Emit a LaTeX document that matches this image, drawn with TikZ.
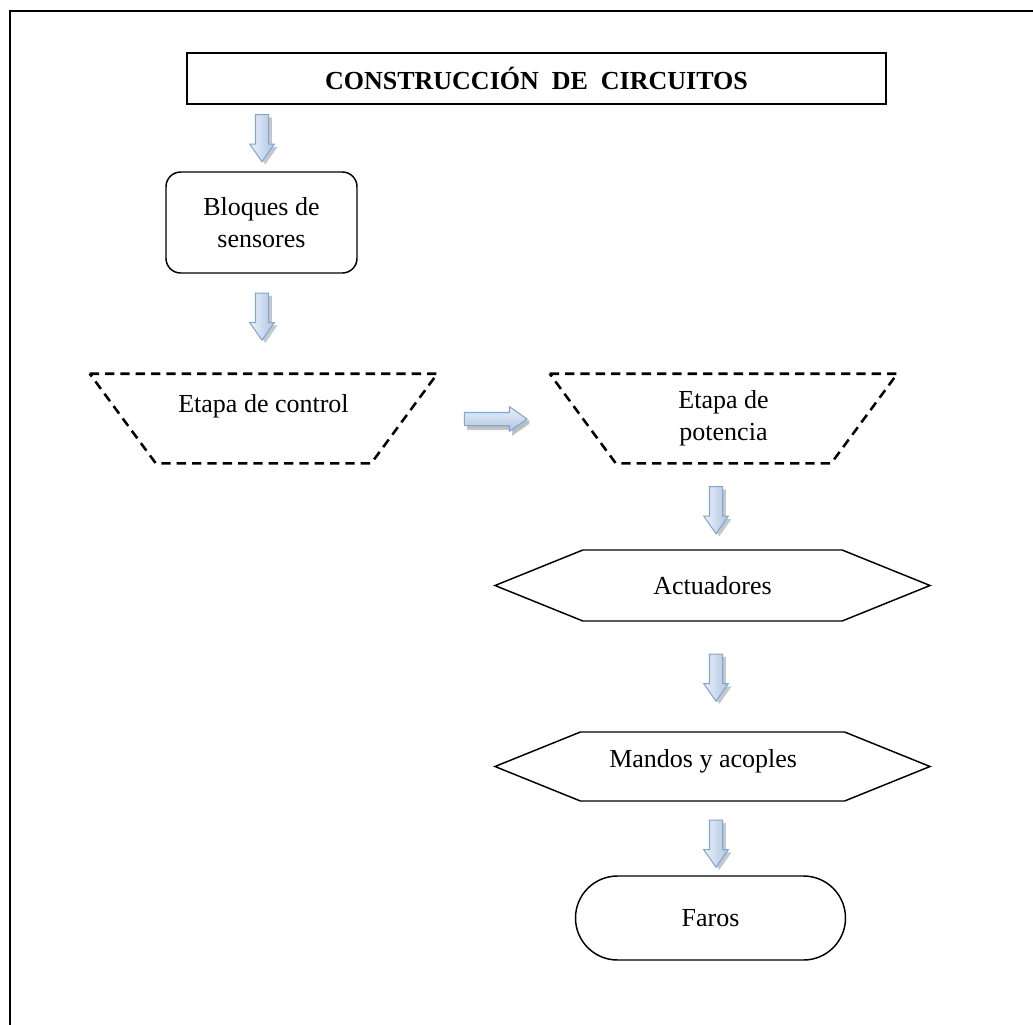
\documentclass[tikz,border=0pt]{standalone}
\usepackage{fontspec}
\setmainfont{Liberation Serif}
\usetikzlibrary{shapes.arrows,shapes.symbols,shadows}

\definecolor{arrowline}{RGB}{132,165,208}
\definecolor{arrowlight}{RGB}{236,242,250}
\definecolor{arrowmid}{RGB}{172,196,226}

\tikzset{
  box/.style={draw, line width=1.1pt, inner sep=0pt, align=center},
  stage/.style={minimum width=260.25pt, minimum height=66.75pt, inner sep=0pt},
  stageline/.style={dash pattern=on 7pt off 4.5pt, line width=1.9pt},
  hexbox/.style={signal, signal to=west and east, signal pointer angle=44,
    draw, line width=1.1pt, minimum width=326.25pt, inner sep=0pt},
  blockarrow/.style={single arrow, draw=arrowline, line width=0.8pt, inner sep=4.5pt,
    minimum height=35.25pt, single arrow head extend=4.3pt,
    single arrow tip angle=70,
    drop shadow={shadow xshift=2.5pt, shadow yshift=-2pt, fill=gray!55, opacity=0.8}},
  downarrow/.style={blockarrow, shape border rotate=270, left color=arrowlight, right color=arrowmid},
  rightarrow/.style={blockarrow, minimum height=47pt, top color=arrowlight, bottom color=arrowmid,
    drop shadow={shadow xshift=2pt, shadow yshift=-3.5pt, fill=gray!55, opacity=0.8}}
}

\begin{document}
\begin{tikzpicture}[x=0.75pt, y=-0.75pt, font=\fontsize{19.5}{24}\selectfont]
  \useasboundingbox (0,0) rectangle (1033,1025);

  % Frame
  \draw[line width=1.5pt] (10,1025) -- (10,11) -- (1033,11);

  % Title
  \node[box, minimum width=524.25pt, minimum height=38.25pt, font=\fontsize{19.5}{24}\selectfont\bfseries]
    (title) at (536.5,78.5) {CONSTRUCCIÓN~~DE~~CIRCUITOS};

  % Left column
  \node[box, rounded corners=11pt, minimum width=143.25pt, minimum height=75.75pt]
    (sensores) at (261.5,222.5) {Bloques de\\sensores};
  \node[stage, label={[yshift=9pt]center:Etapa de control}] (control) at (263.5,418.5) {};
  \draw[stageline] (control.north west) -- (control.north east)
    -- ([xshift=-49.5pt]control.south east) -- ([xshift=49.5pt]control.south west) -- cycle;

  % Right column
  \node[stage, label={[align=center]center:Etapa de\\potencia}] (potencia) at (723.5,418.5) {};
  \draw[stageline] (potencia.north west) -- (potencia.north east)
    -- ([xshift=-49.5pt]potencia.south east) -- ([xshift=49.5pt]potencia.south west) -- cycle;
  \node[hexbox, minimum height=53.25pt] (actuadores) at (712.5,585.5) {Actuadores};
  \node[hexbox, minimum height=51.75pt, label={[xshift=-7pt, yshift=4pt]center:Mandos y acoples}]
    (mandos) at (712.5,766.5) {};
  \node[box, rounded corners=31.5pt, minimum width=202.5pt, minimum height=63pt]
    (faros) at (710.5,918) {Faros};

  % Block arrows
  \node[downarrow] (arr1) at (262,133.5) {};
  \node[downarrow] (arr2) at (262,312) {};
  \node[rightarrow] (arrh) at (491,419) {};
  \node[downarrow] (arr3) at (716,505.5) {};
  \node[downarrow] (arr4) at (716,673) {};
  \node[downarrow] (arr5) at (716,839) {};
\end{tikzpicture}
\end{document}
